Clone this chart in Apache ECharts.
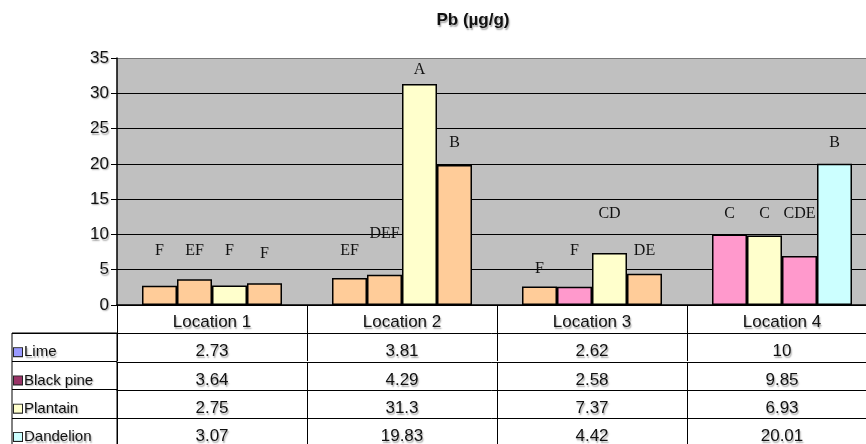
<!DOCTYPE html>
<html>
<head>
<meta charset="utf-8">
<script src="https://cdn.jsdelivr.net/npm/echarts@6/dist/echarts.min.js"></script>
<style>html,body{margin:0;padding:0;background:#fff;overflow:hidden}#c{width:866px;height:444px}</style>
</head>
<body>
<div id="c"></div>
<script>
// ---- data ----
const categories = ['Location 1', 'Location 2', 'Location 3', 'Location 4'];
const seriesNames = ['Lime', 'Black pine', 'Plantain', 'Dandelion'];
const lime = [2.73, 3.81, 2.62, 10];
const blackPine = [3.64, 4.29, 2.58, 9.85];
const plantain = [2.75, 31.3, 7.37, 6.93];
const dandelion = [3.07, 19.83, 4.42, 20.01];
const limeLetters = ['F', 'EF', 'F', 'C'];
const blackPineLetters = ['EF', 'DEF', 'F', 'C'];
const plantainLetters = ['F', 'A', 'CD', 'CDE'];
const dandelionLetters = ['F', 'B', 'DE', 'B'];

// ---- annotation placement (value-axis level where each letter sits) ----
const letterLevels = [
  [6.5, 6.5, 4.0, 11.8],
  [6.5, 9.0, 6.5, 11.8],
  [6.5, 32.2, 11.8, 11.8],
  [6.1, 21.8, 6.5, 21.8]
];

// ---- styles ----
const PEACH = '#FFCC99', PINK = '#FF99CC', CREAM = '#FFFFCC', AQUA = '#CCFFFF';
const seriesColors = ['#9999FF', '#993366', '#FFFFCC', '#CCFFFF'];
const barColors = [
  [PEACH, PEACH, PEACH, PINK],
  [PEACH, PEACH, PINK, CREAM],
  [CREAM, CREAM, CREAM, PINK],
  [PEACH, PEACH, PEACH, AQUA]
];
const rowOffsets = [28, 57, 85, 113];
const sans = 'Liberation Sans, Arial, sans-serif';
const shadow = { textShadowColor: 'rgba(0,0,0,0.35)', textShadowOffsetX: 1, textShadowOffsetY: 1.5, textShadowBlur: 1.5 };

const values = [lime, blackPine, plantain, dandelion];
const letters = [limeLetters, blackPineLetters, plantainLetters, dandelionLetters];

const series = [];
values.forEach((vals, s) => {
  series.push({
    type: 'bar', name: seriesNames[s], stack: 'st' + s, xAxisIndex: 0, yAxisIndex: 0,
    barWidth: 35, barGap: '0%',
    itemStyle: { color: seriesColors[s], borderColor: '#000', borderWidth: 1.5 },
    data: vals.map((v, i) => ({ value: v, itemStyle: { color: barColors[s][i] } }))
  });
  series.push({
    type: 'bar', stack: 'st' + s, xAxisIndex: 0, yAxisIndex: 0,
    barWidth: 35, barGap: '0%', silent: true,
    itemStyle: { color: 'rgba(0,0,0,0)' },
    label: {
      show: true, position: 'top', distance: 0,
      formatter: p => letters[s][p.dataIndex],
      fontFamily: 'Liberation Serif, Times New Roman, serif', fontSize: 16, color: '#111'
    },
    data: vals.map((v, i) => +(letterLevels[s][i] - v).toFixed(3))
  });
});

const tableAxisBase = {
  gridIndex: 0, type: 'category', data: categories, position: 'bottom',
  axisLine: { show: true, lineStyle: { color: '#000', width: 1 } },
  axisTick: { show: true, length: 28, interval: 0, lineStyle: { color: '#000', width: 1 } },
  axisLabel: { interval: 0, fontFamily: sans, fontSize: 17, color: '#111', margin: 10, ...shadow }
};

const xAxes = [
  Object.assign({}, tableAxisBase, {
    offset: 0,
    axisLine: { show: true, lineStyle: { color: '#000', width: 1.5 } },
    axisLabel: Object.assign({}, tableAxisBase.axisLabel, { margin: 9 })
  })
];
values.forEach((row, k) => {
  xAxes.push(Object.assign({}, tableAxisBase, {
    offset: rowOffsets[k],
    axisLabel: Object.assign({}, tableAxisBase.axisLabel, { formatter: (v, i) => String(row[i]) })
  }));
});
xAxes.push({ gridIndex: 1, type: 'value', show: false });

const rich = { t: { fontFamily: sans, fontSize: 15, color: '#111', ...shadow, padding: [0, 0, 0, 2] } };
seriesColors.forEach((c, i) => {
  rich['s' + i] = { width: 8, height: 8, backgroundColor: c, borderColor: '#222', borderWidth: 1, verticalAlign: 'middle' };
});

const option = {
  animation: false,
  title: {
    text: 'Pb (µg/g)', left: 468, top: 7, textAlign: 'center',
    textStyle: { fontFamily: sans, fontSize: 17, fontWeight: 'bold', color: '#111', ...shadow }
  },
  grid: [
    { left: 117, width: 760, top: 58, bottom: 139, show: true, backgroundColor: '#C0C0C0', borderWidth: 0, outerBoundsMode: 'none', containLabel: false },
    { left: 12, top: 333, width: 105, height: 113, show: true, backgroundColor: 'transparent', borderColor: '#000', borderWidth: 1, outerBoundsMode: 'none', containLabel: false }
  ],
  xAxis: xAxes,
  yAxis: [
    {
      gridIndex: 0, type: 'value', min: 0, max: 35, interval: 5,
      axisLine: { show: true, lineStyle: { color: '#000', width: 1.5 } },
      axisTick: { show: true, length: 6, lineStyle: { color: '#000' } },
      axisLabel: { fontFamily: sans, fontSize: 17, color: '#111', margin: 8, ...shadow },
      splitLine: { show: true, lineStyle: { color: ['#000', '#000', '#000', '#000', '#000', '#000', '#000', '#777'], width: 1.2 } }
    },
    {
      gridIndex: 1, type: 'category', data: seriesNames, inverse: true,
      axisLine: { show: false }, axisTick: { show: false },
      splitLine: { show: true, interval: 0, lineStyle: { color: '#000', width: 1 } },
      axisLabel: {
        inside: true, margin: 2, interval: 0, padding: [10, 0, 0, 0],
        formatter: (v, i) => '{s' + i + '|}{t|' + v + '}',
        rich: rich
      }
    }
  ],
  series: series
};

const chart = echarts.init(document.getElementById('c'), null, { renderer: 'canvas' });
chart.setOption(option);
</script>
</body>
</html>
